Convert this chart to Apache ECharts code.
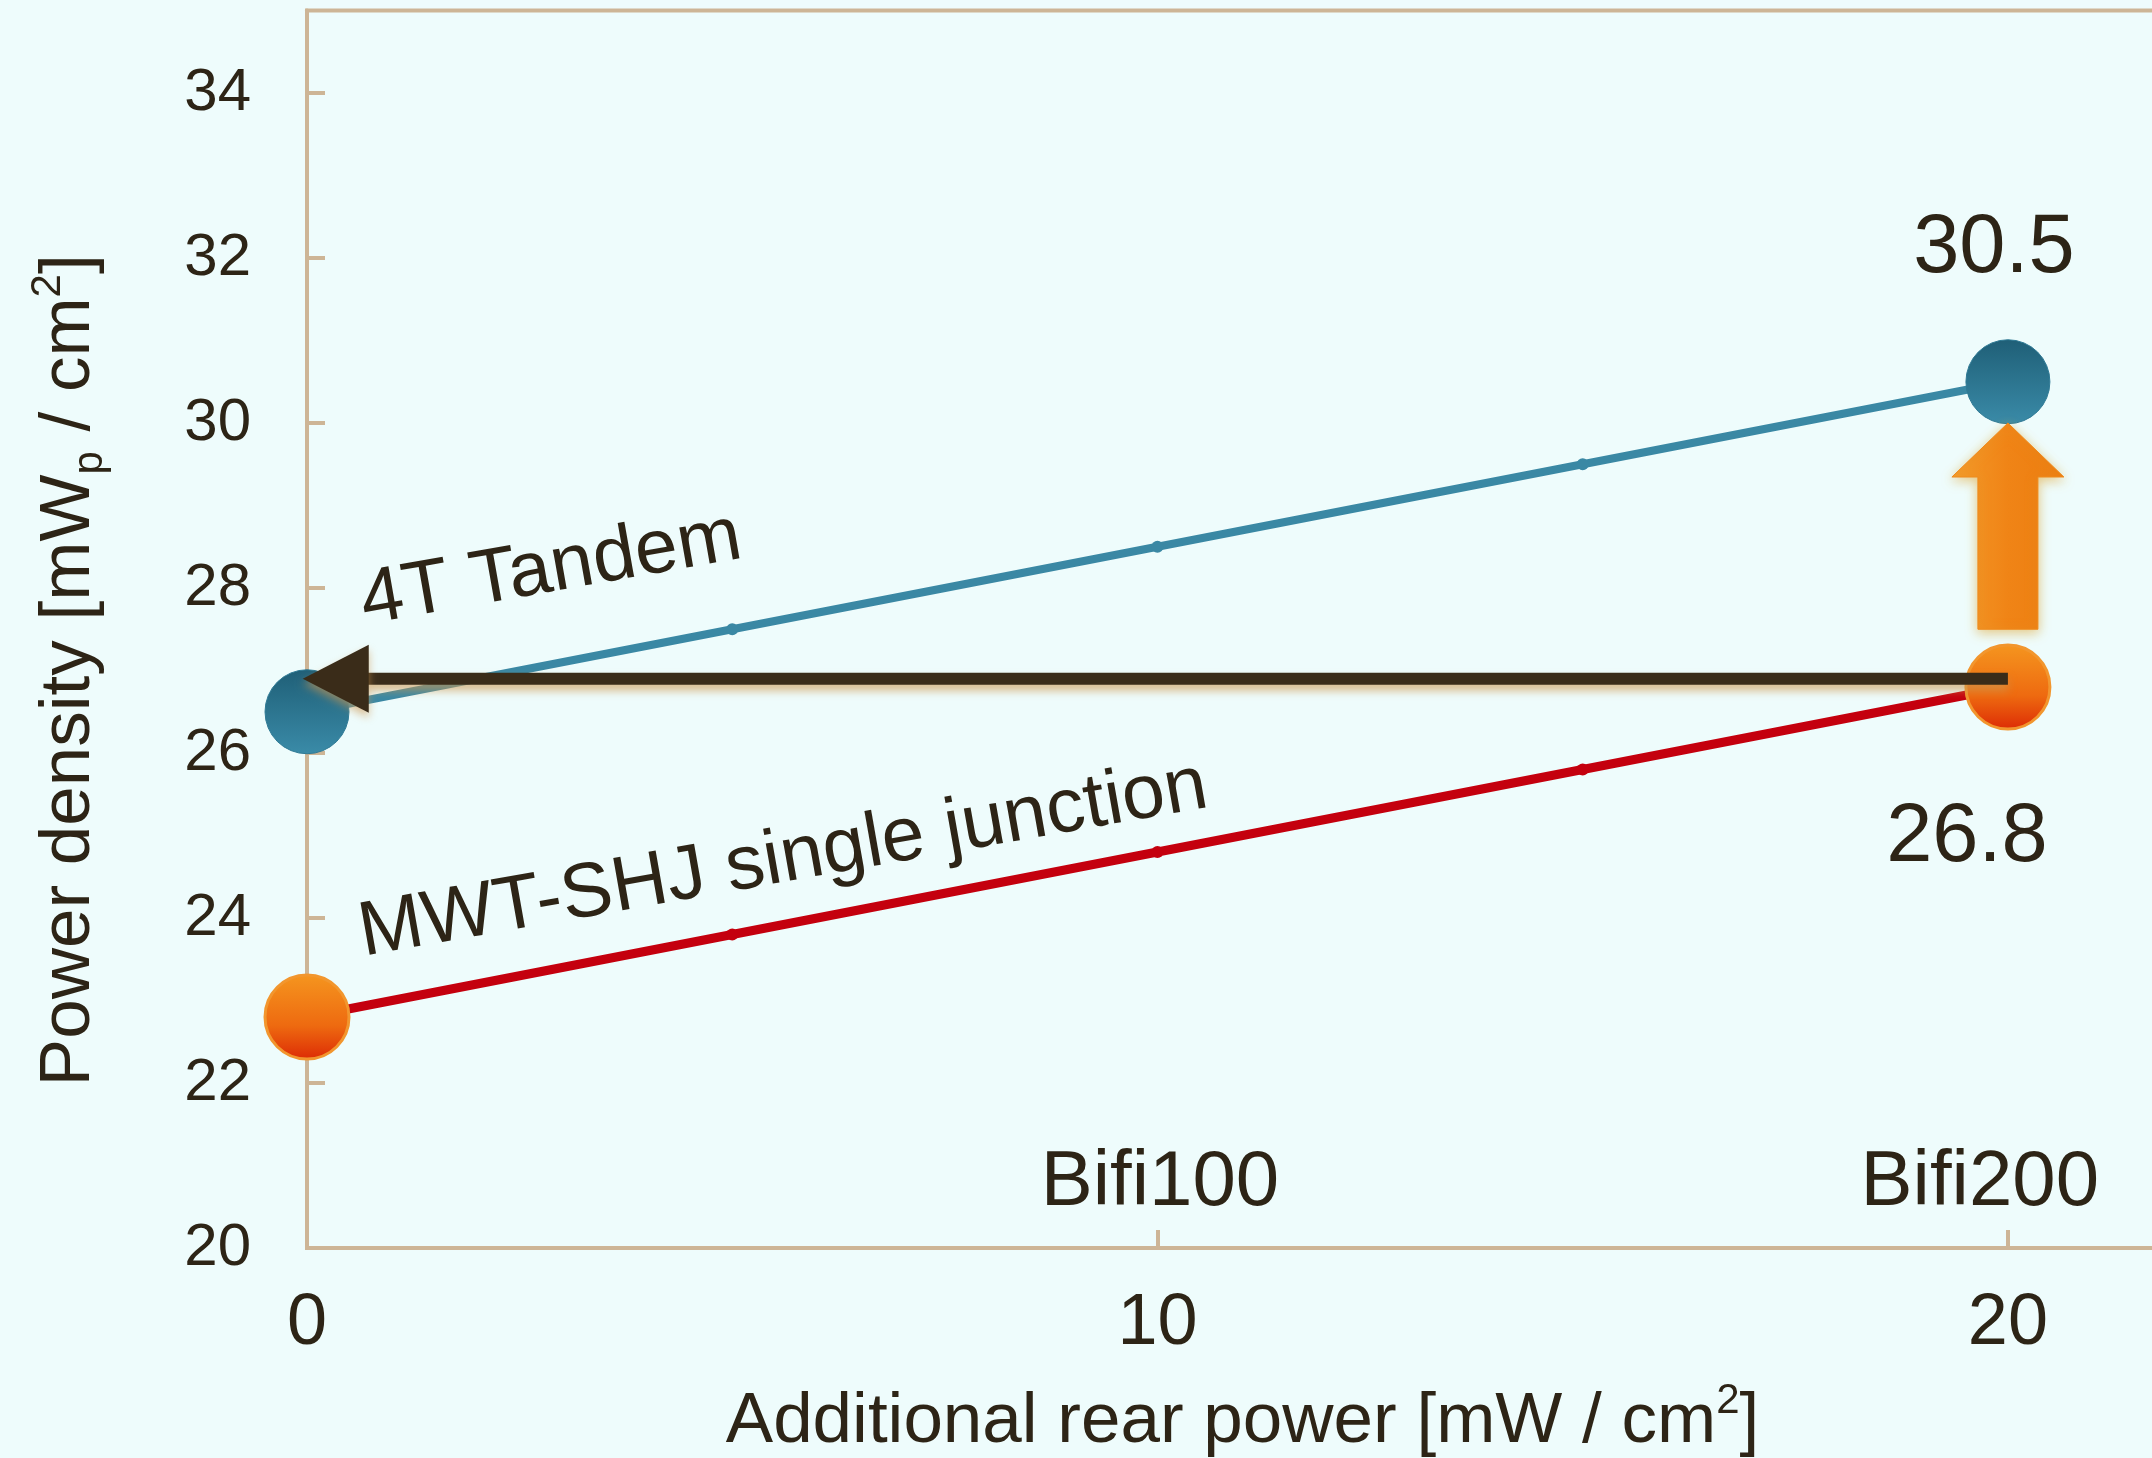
<!DOCTYPE html>
<html>
<head>
<meta charset="utf-8">
<script src="https://cdn.jsdelivr.net/npm/echarts@6/dist/echarts.min.js"></script>
<style>
html,body{margin:0;padding:0;background:#eefcfc;}
#c{width:2152px;height:1458px;}
</style>
</head>
<body>
<div id="c"></div>
<script>
// ---- data ----
const xValues = [0, 5, 10, 15, 20];
const tandem = [26.5, 27.5, 28.5, 29.5, 30.5];
const mwt = [22.8, 23.8, 24.8, 25.8, 26.8];
const seriesNames = ['4T Tandem', 'MWT-SHJ single junction'];
const endLabels = ['30.5', '26.8'];
const bifiLabels = ['Bifi100', 'Bifi200'];
const xTicks = [0, 10, 20];
const yTicks = [20, 22, 24, 26, 28, 30, 32, 34];
// horizontal arrow: from x=20 back to x=0 at the MWT Bifi200 level
const hArrow = [[20, 26.9, -0.05]];
// vertical arrow: from MWT Bifi200 up to Tandem Bifi200
const vArrow = [[20, 27.5, 30.0]];

const FONT = "'Liberation Sans', Arial, Helvetica, sans-serif";
const TXT = '#2d2416';
const AXC = '#cdb596';

const blueBig = {
  color: {type:'linear', x:0, y:0, x2:0, y2:1, colorStops:[{offset:0,color:'#1f5f77'},{offset:1,color:'#3a8ba8'}]},
  borderColor: '#2f7a95', borderWidth: 1
};
const orangeBig = {
  color: {type:'linear', x:0, y:0, x2:0, y2:1, colorStops:[{offset:0,color:'#f5961f'},{offset:0.6,color:'#ee6a10'},{offset:1,color:'#dc2a05'}]},
  borderColor: '#f2962e', borderWidth: 3
};

function makeData(vals, big, label, labelOffset) {
  return xValues.map((x, i) => {
    const item = { value: [x, vals[i]] };
    if (i === 0 || i === vals.length - 1) {
      item.symbolSize = 84;
      item.itemStyle = big;
    }
    if (i === vals.length - 1) {
      item.label = { show: true, position: 'inside', formatter: label, offset: labelOffset,
        fontSize: 83, color: TXT, fontFamily: FONT };
    }
    return item;
  });
}

const chart = echarts.init(document.getElementById('c'));
const option = {
  animation: false,
  backgroundColor: '#eefcfc',
  grid: { left: 307, width: 1871, top: 10.5, bottom: 210, outerBoundsMode: 'none', containLabel: false,
    show: true, borderColor: AXC, borderWidth: 4, backgroundColor: 'transparent' },
  xAxis: {
    type: 'value', min: 0, max: 22, interval: 10,
    axisLine: { show: true, lineStyle: { color: AXC, width: 4 } },
    axisTick: { show: true, inside: true, length: 18, lineStyle: { color: AXC, width: 4 } },
    splitLine: { show: false },
    axisLabel: { showMaxLabel: false, fontSize: 72, color: TXT, margin: 40, fontFamily: FONT,
      formatter: v => xTicks.indexOf(v) >= 0 ? String(v) : '' },
    name: '{t|Additional rear power [mW / cm}{u|2}{t|]}',
    nameLocation: 'middle', nameGap: 132,
    nameTextStyle: { rich: {
      t: { fontSize: 71, color: TXT, fontFamily: FONT, lineHeight: 84 },
      u: { fontSize: 42, color: TXT, fontFamily: FONT, verticalAlign: 'top', lineHeight: 84 }
    } }
  },
  yAxis: {
    type: 'value', min: 20, max: 35, interval: 2,
    axisLine: { show: true, lineStyle: { color: AXC, width: 4 } },
    axisTick: { show: true, inside: true, length: 18, lineStyle: { color: AXC, width: 4 } },
    splitLine: { show: false },
    axisLabel: { showMaxLabel: false, fontSize: 60, color: TXT, margin: 56, fontFamily: FONT,
      formatter: v => yTicks.indexOf(v) >= 0 ? String(v) : '' },
    name: '{t|Power density [mW}{s|p}{t| / cm}{u|2}{t|]}',
    nameLocation: 'middle', nameGap: 196,
    nameTextStyle: { padding: [0, 82, 0, 0], rich: {
      t: { fontSize: 71, color: TXT, fontFamily: FONT, lineHeight: 84 },
      s: { fontSize: 42, color: TXT, fontFamily: FONT, verticalAlign: 'bottom', lineHeight: 84 },
      u: { fontSize: 42, color: TXT, fontFamily: FONT, verticalAlign: 'top', lineHeight: 84 }
    } }
  },
  series: [
    {
      name: seriesNames[0], type: 'line', z: 3,
      data: makeData(tandem, blueBig, endLabels[0], [-14, -133]),
      symbol: 'circle', symbolSize: 12, showAllSymbol: true,
      lineStyle: { color: '#3a88a4', width: 8 },
      itemStyle: { color: '#3a88a4' },
      markPoint: {
        symbol: 'circle', symbolSize: 0, itemStyle: { color: 'transparent' },
        label: { show: true, position: 'inside', color: TXT, fontFamily: FONT },
        data: [
          { coord: [2.87, 28.22], label: { formatter: seriesNames[0], rotate: 10, fontSize: 77 } }
        ]
      }
    },
    {
      name: seriesNames[1], type: 'line', z: 3,
      data: makeData(mwt, orangeBig, endLabels[1], [-41, 151]),
      symbol: 'circle', symbolSize: 12, showAllSymbol: true,
      lineStyle: { color: '#c4000e', width: 9 },
      itemStyle: { color: '#c4000e' },
      markPoint: {
        symbol: 'circle', symbolSize: 0, itemStyle: { color: 'transparent' },
        label: { show: true, position: 'inside', color: TXT, fontFamily: FONT },
        data: [
          { coord: [5.6, 24.7], label: { formatter: seriesNames[1], rotate: 10, fontSize: 77 } },
          { coord: [10.03, 20.78], label: { formatter: bifiLabels[0], fontSize: 78 } },
          { coord: [19.67, 20.78], label: { formatter: bifiLabels[1], fontSize: 78 } }
        ]
      }
    },
    {
      type: 'custom', z: 6, clip: false,
      data: vArrow,
      encode: { x: 0, y: [1, 2] },
      renderItem: function (params, api) {
        const b = api.coord([api.value(0), api.value(1)]);
        const t = api.coord([api.value(0), api.value(2)]);
        const sh = 30, hh = 56, hl = 54;
        const x = b[0];
        return {
          type: 'polygon',
          shape: { points: [[x, t[1]], [x + hh, t[1] + hl], [x + sh, t[1] + hl], [x + sh, b[1]], [x - sh, b[1]], [x - sh, t[1] + hl], [x - hh, t[1] + hl]] },
          style: {
            fill: {type:'linear', x:0, y:0, x2:1, y2:0, colorStops:[{offset:0,color:'#f39a2a'},{offset:0.5,color:'#f08416'},{offset:1,color:'#ec7d10'}]},
            stroke: '#ef8a1c', lineWidth: 1,
            shadowBlur: 12, shadowColor: 'rgba(225,170,60,0.65)', shadowOffsetY: 3
          }
        };
      }
    },
    {
      type: 'custom', z: 7, clip: false,
      data: hArrow,
      encode: { x: [0, 2], y: 1 },
      renderItem: function (params, api) {
        const a = api.coord([api.value(0), api.value(1)]);
        const b = api.coord([api.value(2), api.value(1)]);
        const headLen = 66, headHalf = 34;
        const dir = Math.sign(b[0] - a[0]);
        const baseX = b[0] - dir * headLen;
        const col = '#3a2c19';
        return {
          type: 'group',
          children: [
            { type: 'line', shape: { x1: a[0], y1: a[1], x2: baseX + dir * 2, y2: b[1] },
              style: { stroke: col, lineWidth: 12, shadowBlur: 8, shadowColor: 'rgba(205,150,80,0.65)', shadowOffsetY: 6 } },
            { type: 'polygon', shape: { points: [[b[0], b[1]], [baseX, b[1] - headHalf], [baseX, b[1] + headHalf]] },
              style: { fill: col, shadowBlur: 8, shadowColor: 'rgba(205,150,80,0.6)', shadowOffsetY: 5 } }
          ]
        };
      }
    }
  ]
};
chart.setOption(option);
</script>
</body>
</html>
